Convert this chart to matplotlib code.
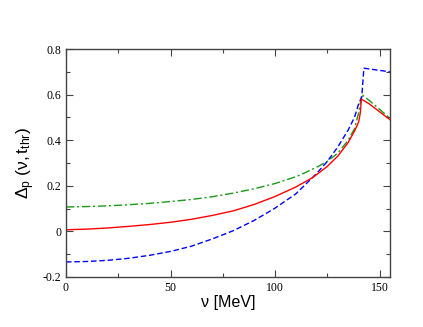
import matplotlib
matplotlib.use('Agg')
import matplotlib.pyplot as plt
from matplotlib.ticker import MultipleLocator

plt.rcParams['mathtext.fontset'] = 'custom'
plt.rcParams['mathtext.rm'] = 'Liberation Sans'
plt.rcParams['mathtext.it'] = 'Liberation Sans'

# curves (nu in MeV)
nu_red = [0, 10, 20, 30, 40, 50, 60, 70, 80, 90, 100, 110, 118, 125, 130,
          135, 138, 140, 140.8, 141.3, 145, 155]
red = [0.007, 0.01, 0.015, 0.022, 0.03, 0.04, 0.053, 0.07, 0.09, 0.118, 0.153,
       0.195, 0.236, 0.285, 0.33, 0.39, 0.44, 0.48, 0.52, 0.58, 0.56, 0.49]

nu_green = [0, 10, 20, 30, 40, 50, 60, 70, 80, 90, 100, 110, 115, 120, 125,
            130, 135, 138, 140, 141.5, 145, 155]
green = [0.107, 0.109, 0.112, 0.117, 0.123, 0.131, 0.14, 0.152, 0.168, 0.187,
         0.21, 0.24, 0.26, 0.282, 0.307, 0.343, 0.40, 0.45, 0.52, 0.60, 0.575, 0.496]

nu_blue = [0, 10, 20, 30, 40, 50, 60, 70, 80, 90, 100, 110, 115, 120, 125,
           130, 135, 138, 140, 141.5, 142.5, 155]
blue = [-0.134, -0.132, -0.127, -0.118, -0.105, -0.088, -0.065, -0.033, 0.003,
        0.048, 0.102, 0.165, 0.21, 0.255, 0.307, 0.37, 0.445, 0.50, 0.56, 0.59,
        0.716, 0.70]

fig = plt.figure(figsize=(4.23, 3.27), dpi=100)
ax = fig.add_axes([0.156, 0.153, 0.766, 0.697])

ax.plot(nu_green, green, color='#1a9a1a', lw=1.0, linestyle=(0, (6, 2, 1.5, 2)))
ax.plot(nu_blue, blue, color='#0000ff', lw=1.0, linestyle=(0, (4, 2)))
ax.plot(nu_red, red, color='#ff0000', lw=1.0)

ax.set_xlim(0, 155)
ax.set_ylim(-0.2, 0.8)
ax.xaxis.set_major_locator(MultipleLocator(50))
ax.xaxis.set_minor_locator(MultipleLocator(25))
ax.yaxis.set_major_locator(MultipleLocator(0.2))
ax.yaxis.set_minor_locator(MultipleLocator(0.1))
ax.tick_params(which='both', direction='in', top=True, right=True, width=0.8, color='#444444')
ax.tick_params(which='major', length=5)
ax.tick_params(which='minor', length=3)
for lab in ax.get_xticklabels():
    lab.set_family('Liberation Serif')
    lab.set_fontsize(8.5)
ax.set_yticks([-0.2, 0, 0.2, 0.4, 0.6, 0.8])
ax.set_yticklabels(['-0.2', '0', '0.2', '0.4', '0.6', '0.8'], family='Liberation Serif', fontsize=8.5)
for s in ax.spines.values():
    s.set_color('#444444')
    s.set_linewidth(1.0)

ax.set_xlabel('\u03bd [MeV]', family='Liberation Sans', fontsize=11.5, labelpad=1)
ax.set_ylabel(r'$\Delta_p\ (\nu,t_{thr})$', fontsize=12.5, labelpad=4)

fig.savefig('out.png', dpi=100)
